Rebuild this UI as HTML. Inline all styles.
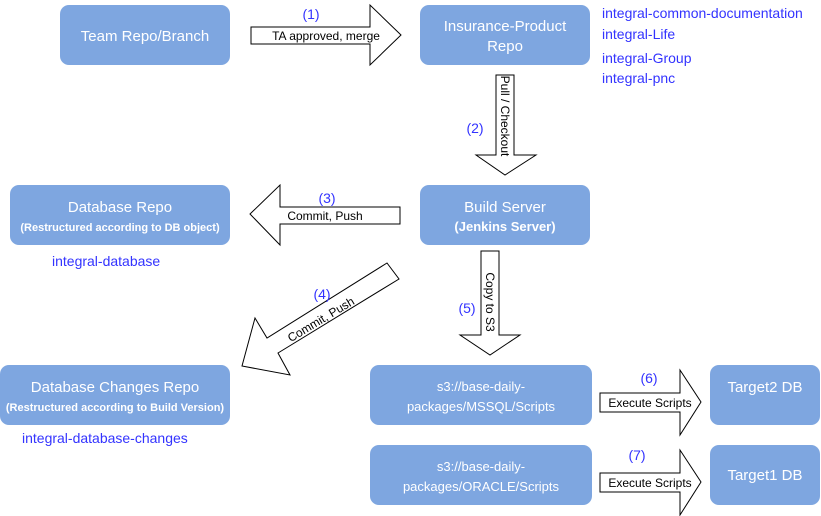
<!DOCTYPE html>
<html><head><meta charset="utf-8"><style>
html,body{margin:0;padding:0;background:#fff;}
svg{display:block;font-family:"Liberation Sans",Arial,sans-serif;}
.b{fill:#7EA6E0;}
.w{fill:#fff;text-anchor:middle;}
.a{fill:#fff;stroke:#000;stroke-width:1;}
.l{fill:#000;font-size:12px;text-anchor:middle;}
.n{fill:#3333ff;font-size:14px;text-anchor:middle;}
.r{fill:#3333ff;font-size:14px;}
</style></head><body>
<svg width="821" height="516" viewBox="0 0 821 516">
<rect class="b" x="60" y="5" width="170" height="60" rx="9"/>
<text class="w" x="145" y="41" font-size="15">Team Repo/Branch</text>
<rect class="b" x="420" y="5" width="170" height="60" rx="9"/>
<text class="w" x="505" y="31" font-size="15">Insurance-Product</text>
<text class="w" x="505" y="51" font-size="15">Repo</text>
<rect class="b" x="10" y="185" width="220" height="60" rx="9"/>
<text class="w" x="120" y="212" font-size="15">Database Repo</text>
<text class="w" x="120" y="231" font-size="11" font-weight="bold">(Restructured according to DB object)</text>
<rect class="b" x="420" y="185" width="170" height="60" rx="9"/>
<text class="w" x="505" y="212" font-size="15">Build Server</text>
<text class="w" x="505" y="231" font-size="13" font-weight="bold">(Jenkins Server)</text>
<rect class="b" x="0" y="365" width="230" height="60" rx="9"/>
<text class="w" x="115" y="392" font-size="15">Database Changes Repo</text>
<text class="w" x="115" y="411" font-size="11" font-weight="bold">(Restructured according to Build Version)</text>
<rect class="b" x="370" y="365" width="222" height="60" rx="9"/>
<text class="w" x="481" y="391" font-size="13">s3://base-daily-</text>
<text class="w" x="481" y="411" font-size="13">packages/MSSQL/Scripts</text>
<rect class="b" x="370" y="445" width="222" height="60" rx="9"/>
<text class="w" x="481" y="471" font-size="13">s3://base-daily-</text>
<text class="w" x="481" y="491" font-size="13">packages/ORACLE/Scripts</text>
<rect class="b" x="710" y="365" width="110" height="60" rx="9"/>
<text class="w" x="765" y="392" font-size="15">Target2 DB</text>
<rect class="b" x="710" y="445" width="110" height="60" rx="9"/>
<text class="w" x="765" y="480" font-size="15">Target1 DB</text>

<polygon class="a" points="251,27 370,27 370,5 401,35 370,65 370,44 251,44"/>
<text class="l" x="326" y="40">TA approved, merge</text>
<text class="n" x="311" y="19">(1)</text>

<polygon class="a" points="496,75 514,75 514,155 536,155 505,175 476,155 496,155"/>
<text class="l" transform="translate(501,116) rotate(90)">Pull / Checkout</text>
<text class="n" x="475" y="133">(2)</text>

<polygon class="a" points="400,207 280,207 280,185 250,214 280,245 280,224 400,224"/>
<text class="l" x="325" y="220">Commit, Push</text>
<text class="n" x="327" y="203">(3)</text>

<polygon class="a" points="387,263 399,279 278,353 290,375 242,366 255,318 267,338"/>
<text class="l" transform="translate(323,323) rotate(-31)">Commit, Push</text>
<text class="n" x="322" y="299">(4)</text>

<polygon class="a" points="481,251 499,251 499,335 520,335 490,355 460,335 481,335"/>
<text class="l" transform="translate(486,302) rotate(90)">Copy to S3</text>
<text class="n" x="467" y="313">(5)</text>

<polygon class="a" points="600,393 680,393 680,370 701,402 680,435 680,412 600,412"/>
<text class="l" x="650" y="407">Execute Scripts</text>
<text class="n" x="649" y="383">(6)</text>
<polygon class="a" points="600,473 680,473 680,450 701,482 680,515 680,492 600,492"/>
<text class="l" x="650" y="487">Execute Scripts</text>
<text class="n" x="637" y="460">(7)</text>

<text class="r" x="602" y="18">integral-common-documentation</text>
<text class="r" x="602" y="39">integral-Life</text>
<text class="r" x="602" y="63">integral-Group</text>
<text class="r" x="602" y="83">integral-pnc</text>
<text class="r" x="52" y="266">integral-database</text>
<text class="r" x="22" y="443">integral-database-changes</text>
</svg>
</body></html>
